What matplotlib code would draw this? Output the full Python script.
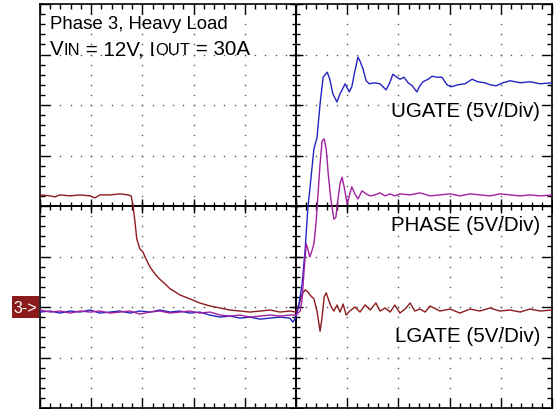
import numpy as np
import matplotlib.pyplot as plt
from matplotlib.patches import Rectangle

plt.rcParams['font.family'] = ['Liberation Sans', 'DejaVu Sans']

# --- Scope traces: time in divisions from trigger, level in divisions (5V/div) ---
lgate_t = [-5.00, -4.80, -4.71, -4.61, -4.41, -4.22, -4.02, -3.93, -3.83, -3.63,
           -3.44, -3.28, -3.22, -3.18, -3.14, -3.11, -3.05, -2.99, -2.93, -2.85,
           -2.75, -2.66, -2.56, -2.46, -2.36, -2.27, -2.07, -1.88, -1.68, -1.48,
           -1.29, -1.09, -0.90, -0.70, -0.51, -0.31, -0.12, 0.00, 0.06, 0.12,
           0.18, 0.23, 0.29, 0.35, 0.41, 0.47, 0.51, 0.55, 0.59, 0.63,
           0.68, 0.74, 0.80, 0.86, 0.92, 0.98, 1.05, 1.15, 1.25, 1.35,
           1.45, 1.56, 1.64, 1.74, 1.84, 1.93, 2.03, 2.13, 2.23, 2.32,
           2.42, 2.52, 2.62, 2.81, 3.01, 3.20, 3.40, 3.59, 3.79, 3.98,
           4.18, 4.38, 4.57, 4.77, 5.00]
lgate_v = [0.22, 0.20, 0.18, 0.22, 0.20, 0.22, 0.20, 0.16, 0.22, 0.22,
           0.24, 0.22, 0.20, -0.02, -0.36, -0.65, -0.85, -0.91, -1.05, -1.21,
           -1.35, -1.45, -1.54, -1.64, -1.70, -1.76, -1.84, -1.92, -1.98, -2.02,
           -2.06, -2.08, -2.10, -2.08, -2.06, -2.10, -2.08, -2.10, -1.94, -1.74,
           -1.66, -1.70, -1.78, -1.84, -2.08, -2.48, -2.20, -1.80, -1.72, -1.84,
           -1.98, -2.08, -1.96, -2.10, -1.94, -2.16, -2.08, -2.00, -2.10, -1.96,
           -2.06, -1.92, -2.08, -2.02, -2.10, -1.96, -2.12, -2.04, -1.92, -2.08,
           -2.04, -2.10, -1.98, -2.08, -2.04, -2.12, -2.04, -2.08, -2.02, -2.08,
           -2.06, -2.10, -2.04, -2.08, -2.06]

ugate_t = [-5.00, -4.80, -4.61, -4.41, -4.22, -4.02, -3.83, -3.63, -3.44, -3.24,
           -3.05, -2.85, -2.66, -2.46, -2.27, -2.07, -1.88, -1.68, -1.48, -1.29,
           -1.09, -0.90, -0.70, -0.51, -0.31, -0.12, -0.06, 0.00, 0.06, 0.12,
           0.18, 0.23, 0.29, 0.35, 0.41, 0.47, 0.53, 0.61, 0.66, 0.72,
           0.80, 0.86, 0.96, 1.04, 1.09, 1.15, 1.21, 1.25, 1.31, 1.37,
           1.43, 1.54, 1.64, 1.76, 1.84, 1.89, 1.97, 2.03, 2.11, 2.19,
           2.27, 2.36, 2.42, 2.48, 2.58, 2.66, 2.75, 2.85, 2.95, 3.03,
           3.16, 3.30, 3.44, 3.55, 3.69, 3.79, 3.91, 4.04, 4.18, 4.28,
           4.38, 4.57, 4.77, 5.00]
ugate_v = [-2.10, -2.08, -2.12, -2.08, -2.10, -2.06, -2.12, -2.10, -2.08, -2.12,
           -2.08, -2.10, -2.06, -2.10, -2.08, -2.12, -2.10, -2.16, -2.20, -2.18,
           -2.22, -2.20, -2.24, -2.22, -2.20, -2.22, -2.30, -2.20, -1.94, -1.54,
           -0.85, -0.06, 0.53, 1.13, 1.35, 2.02, 2.55, 2.65, 2.51, 2.22,
           2.06, 2.22, 2.42, 2.26, 2.36, 2.67, 2.95, 2.87, 2.71, 2.48,
           2.42, 2.44, 2.42, 2.30, 2.46, 2.61, 2.55, 2.51, 2.55, 2.44,
           2.38, 2.26, 2.38, 2.46, 2.51, 2.57, 2.55, 2.55, 2.40, 2.36,
           2.40, 2.42, 2.51, 2.46, 2.44, 2.40, 2.38, 2.44, 2.48, 2.46,
           2.44, 2.46, 2.42, 2.44]

phase_t = [-5.00, -4.80, -4.61, -4.41, -4.22, -4.02, -3.83, -3.63, -3.44, -3.24,
           -3.05, -2.85, -2.66, -2.46, -2.27, -2.07, -1.88, -1.68, -1.48, -1.29,
           -1.09, -0.90, -0.70, -0.51, -0.31, -0.12, 0.00, 0.08, 0.12, 0.16,
           0.20, 0.23, 0.27, 0.31, 0.35, 0.39, 0.43, 0.47, 0.51, 0.55,
           0.59, 0.63, 0.68, 0.74, 0.78, 0.82, 0.86, 0.90, 0.94, 1.00,
           1.05, 1.09, 1.15, 1.21, 1.29, 1.37, 1.45, 1.54, 1.64, 1.74,
           1.84, 1.93, 2.03, 2.23, 2.42, 2.62, 2.81, 3.01, 3.20, 3.40,
           3.59, 3.79, 3.98, 4.18, 4.38, 4.57, 4.77, 5.00]
phase_v = [-2.06, -2.10, -2.08, -2.12, -2.08, -2.10, -2.08, -2.12, -2.10, -2.08,
           -2.14, -2.10, -2.08, -2.12, -2.10, -2.08, -2.12, -2.10, -2.16, -2.18,
           -2.16, -2.20, -2.18, -2.16, -2.18, -2.16, -2.16, -2.08, -1.84, -1.25,
           -0.75, -0.85, -1.01, -0.89, -0.75, -0.36, 0.24, 0.83, 1.29, 1.33,
           1.13, 0.63, 0.14, -0.26, -0.22, 0.14, 0.44, 0.57, 0.38, 0.04,
           0.24, 0.38, 0.24, 0.14, 0.30, 0.24, 0.20, 0.22, 0.26, 0.20,
           0.24, 0.20, 0.24, 0.22, 0.26, 0.20, 0.22, 0.24, 0.20, 0.24,
           0.22, 0.20, 0.24, 0.22, 0.20, 0.22, 0.20, 0.22]

ch3_ground = -2.0
labels = ['UGATE (5V/Div)', 'PHASE (5V/Div)', 'LGATE (5V/Div)']
label_y = [1.78, -0.47, -2.67]

fig = plt.figure(figsize=(5.6, 4.1), dpi=100)
ax = fig.add_axes([40 / 560, 1 / 410, 512 / 560, 404 / 410])
ax.set_xlim(-5, 5)
ax.set_ylim(-4, 4)

# graticule dots
minor = np.arange(-5, 5.01, 0.2)
minor_y = np.arange(-4, 4.01, 0.2)
for gx in [-4, -3, -2, -1, 1, 2, 3, 4]:
    ax.plot(np.full_like(minor_y, gx), minor_y, ls='none', marker='s', ms=1.0,
            mew=0, color='#555555', zorder=1)
for gy in [-3, -2, -1, 1, 2, 3]:
    ax.plot(minor, np.full_like(minor, gy), ls='none', marker='s', ms=1.0,
            mew=0, color='#555555', zorder=1)

# centre cross with ticks
ax.axhline(0, color='black', lw=1.4, zorder=2)
ax.axvline(0, color='black', lw=1.4, zorder=2)
ax.plot(minor, np.zeros_like(minor), ls='none', marker='|', ms=6, mew=1, color='black', zorder=2)
ax.plot(np.zeros_like(minor_y), minor_y, ls='none', marker='_', ms=6, mew=1, color='black', zorder=2)
maj_x = np.arange(-5, 6)
maj_y = np.arange(-4, 5)
ax.plot(maj_x, np.zeros_like(maj_x), ls='none', marker='|', ms=10, mew=1, color='black', zorder=2)
ax.plot(np.zeros_like(maj_y), maj_y, ls='none', marker='_', ms=10, mew=1, color='black', zorder=2)

# frame ticks
ax.set_xticks(maj_x)
ax.set_yticks(maj_y)
ax.set_xticks(minor, minor=True)
ax.set_yticks(minor_y, minor=True)
ax.tick_params(which='both', direction='in', top=True, right=True,
               labelbottom=False, labelleft=False, width=1, color='black')
ax.tick_params(which='major', length=7)
ax.tick_params(which='minor', length=3.5)
for s in ax.spines.values():
    s.set_linewidth(1.2)

# traces
ax.plot(lgate_t, lgate_v, color='#8c1c1c', lw=1.0, zorder=3)
ax.plot(ugate_t, ugate_v, color='#2323c2', lw=1.0, zorder=4)
ax.plot(phase_t, phase_v, color='#a020a0', lw=1.0, zorder=5)

# channel labels
for lab, ly in zip(labels, label_y):
    ax.text(4.77, ly, lab, ha='right', va='baseline', fontsize=14.8, zorder=6)

fig.text(50 / 560, 1 - 29 / 410, 'Phase 3, Heavy Load', fontsize=13.4, va='baseline')

# second header line with small-cap subscripts
renderer = fig.canvas.get_renderer()
x = 50 / 560
for s, size in [('V', 14.8), ('IN', 12), (' = 12V, I', 14.8), ('OUT', 12), (' = 30A', 14.8)]:
    t = fig.text(x, 1 - 55 / 410, s, fontsize=size, va='baseline')
    x += t.get_window_extent(renderer).width / fig.bbox.width

# channel 3 ground marker
y_mark = ax.transData.transform((0, ch3_ground))[1] / fig.bbox.height
fig.patches.append(Rectangle((12 / 560, y_mark - 11 / 410), 27 / 560, 22 / 410,
                             transform=fig.transFigure, facecolor='#8b1a1a',
                             edgecolor='none'))
fig.text(25.5 / 560, y_mark, '3->', color='white', fontsize=11.5,
         ha='center', va='center')

fig.savefig('out.png', dpi=100)
